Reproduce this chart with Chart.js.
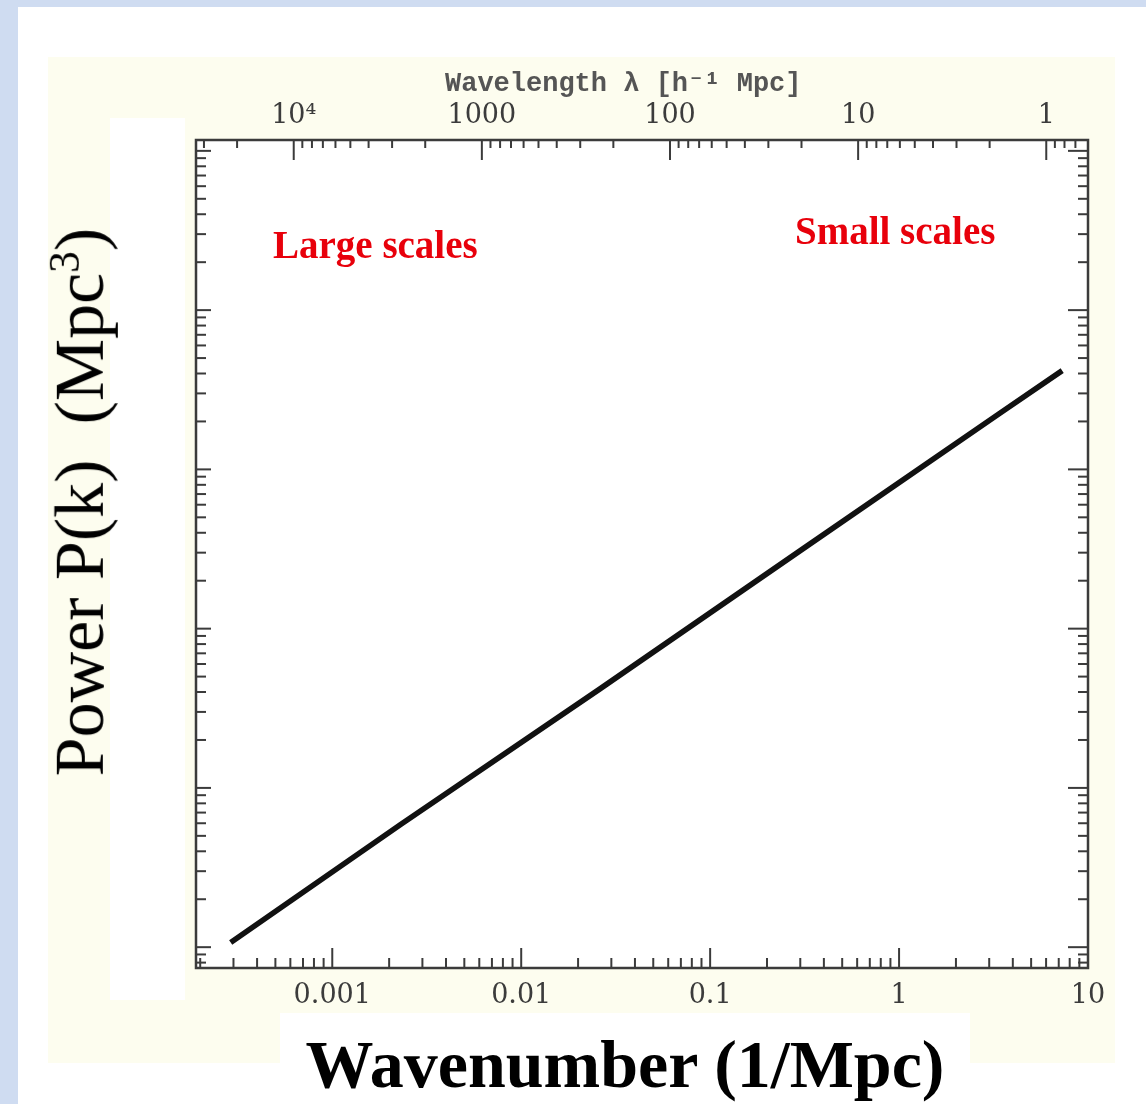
<!DOCTYPE html>
<html>
<head>
<meta charset="utf-8">
<title>Power spectrum P(k)</title>
<script src="https://cdn.jsdelivr.net/npm/chart.js@4/dist/chart.umd.min.js"></script>
<style>
  body { margin: 0; width: 1146px; height: 1104px; background: #cfdcf1; position: relative; overflow: hidden; }
  .box { position: absolute; }
  #panel { left: 18px; top: 7px; right: 0; bottom: 0; background: #fff; }
  #cream { left: 48px; top: 57px; width: 1067px; height: 1006px; background: #fdfdef; }
  #leftPatch { left: 110px; top: 118px; width: 75px; height: 882px; background: #fff; }
  #bottomPatch { left: 280px; top: 1013px; width: 690px; height: 91px; background: #fff; }
  #plotBg { left: 196px; top: 140px; width: 892px; height: 828px; background: #fff; }
  canvas { position: absolute; left: 0; top: 0; }
  .txt { position: absolute; white-space: nowrap; }
  #yTitle { left: -278px; top: 459px; width: 700px; text-align: center; transform: rotate(-90deg);
            font: 70px "Liberation Serif", "Times New Roman", serif; color: #000; line-height: 70px; }
  #xTitle { left: 280px; top: 1026px; width: 690px; text-align: center;
            font: bold 68px "Liberation Serif", "Times New Roman", serif; color: #000; line-height: 76px; }
  #topTitle { left: 445px; top: 66px; font: bold 27px "Liberation Mono", monospace; color: #555; }
  .red { font: bold 39px "Liberation Serif", "Times New Roman", serif; color: #e8000b; }
  #large { left: 273px; top: 222px; }
  #small { left: 795px; top: 208px; }
  sup { font-size: 0.62em; }
</style>
</head>
<body>
<div class="box" id="panel"></div>
<div class="box" id="cream"></div>
<div class="box" id="leftPatch"></div>
<div class="box" id="bottomPatch"></div>
<div class="box" id="plotBg"></div>
<canvas id="spectrum" width="1146" height="1104"></canvas>
<div class="txt" id="yTitle">Power P(k)&nbsp;&nbsp;(Mpc<sup>3</sup>)</div>
<div class="txt" id="xTitle">Wavenumber (1/Mpc)</div>
<div class="txt" id="topTitle">Wavelength λ [h⁻¹ Mpc]</div>
<div class="txt red" id="large">Large scales</div>
<div class="txt red" id="small">Small scales</div>

<script>
// ========== DATA ==========
const kValues = [0.00029, 0.0023, 0.026, 0.30, 3.4, 7.3];
const powerValues = [10.7, 59, 417, 3090, 22400, 41700];

const kTicks = [0.001, 0.01, 0.1, 1, 10];
const kTickLabels = ['0.001', '0.01', '0.1', '1', '10'];
const lambdaTicks = [10000, 1000, 100, 10, 1];
const lambdaTickLabels = ['10⁴', '1000', '100', '10', '1'];

const kRange = [0.00019, 10];
const lambdaRange = [0.628, 33070];
const powerRange = [7.4, 1.17e6];

// ========== HELPERS ==========
function logMarks(scale) {
  const out = [];
  const lo = Math.floor(Math.log10(scale.min));
  const hi = Math.ceil(Math.log10(scale.max));
  for (let e = lo; e <= hi; e++) {
    for (let m = 1; m <= 9; m++) {
      const v = m * Math.pow(10, e);
      if (v >= scale.min * 0.999 && v <= scale.max * 1.001) out.push({ v, major: m === 1 });
    }
  }
  return out;
}

function fixedTicks(values) {
  return scale => { scale.ticks = values.map(v => ({ value: v })); };
}

// inward tick marks + frame, like the old plot
const insideTicks = {
  id: 'insideTicks',
  afterDatasetsDraw(chart) {
    const { ctx, chartArea: a, scales } = chart;
    ctx.save();
    ctx.strokeStyle = '#3b3b3b';
    ctx.lineWidth = 2;
    const seg = (x1, y1, x2, y2) => { ctx.beginPath(); ctx.moveTo(x1, y1); ctx.lineTo(x2, y2); ctx.stroke(); };

    logMarks(scales.x).forEach(t => {
      const px = scales.x.getPixelForValue(t.v);
      seg(px, a.bottom, px, a.bottom - (t.major ? 20 : 10));
    });
    logMarks(scales.x2).forEach(t => {
      const px = scales.x2.getPixelForValue(t.v);
      seg(px, a.top, px, a.top + (t.major ? 20 : 8));
    });
    logMarks(scales.y).forEach(t => {
      const py = scales.y.getPixelForValue(t.v);
      seg(a.left, py, a.left + (t.major ? 15 : 10), py);
      seg(a.right, py, a.right - (t.major ? 20 : 10), py);
    });

    ctx.lineWidth = 2.5;
    ctx.strokeRect(a.left, a.top, a.right - a.left, a.bottom - a.top);
    ctx.restore();
  }
};

// ========== CHART ==========
const tickFont = { family: '"DejaVu Serif", serif', size: 27 };

new Chart(document.getElementById('spectrum'), {
  type: 'line',
  data: {
    datasets: [{
      data: kValues.map((k, i) => ({ x: k, y: powerValues[i] })),
      xAxisID: 'x',
      yAxisID: 'y',
      borderColor: '#111',
      borderWidth: 5.5,
      pointRadius: 0,
      tension: 0,
      fill: false
    }]
  },
  options: {
    responsive: false,
    animation: false,
    devicePixelRatio: 1,
    layout: { padding: { left: 0, right: 58, top: 0, bottom: 0 } },
    plugins: { legend: { display: false }, tooltip: { enabled: false } },
    scales: {
      x: {
        type: 'logarithmic',
        position: 'bottom',
        min: kRange[0],
        max: kRange[1],
        afterBuildTicks: fixedTicks(kTicks),
        afterFit: s => { s.height = 136; },
        grid: { display: false, drawTicks: false },
        border: { display: false },
        ticks: {
          padding: 12,
          autoSkip: false,
          maxRotation: 0,
          color: '#3c3c3c',
          font: tickFont,
          callback: (v, i) => kTickLabels[i]
        }
      },
      x2: {
        type: 'logarithmic',
        position: 'top',
        reverse: true,
        min: lambdaRange[0],
        max: lambdaRange[1],
        afterBuildTicks: fixedTicks(lambdaTicks),
        afterFit: s => { s.height = 140; },
        grid: { display: false, drawTicks: false },
        border: { display: false },
        ticks: {
          padding: 8,
          autoSkip: false,
          maxRotation: 0,
          color: '#3c3c3c',
          font: tickFont,
          callback: (v, i) => lambdaTickLabels[i]
        }
      },
      y: {
        type: 'logarithmic',
        position: 'left',
        min: powerRange[0],
        max: powerRange[1],
        afterFit: s => { s.width = 196; },
        grid: { display: false, drawTicks: false },
        border: { display: false },
        ticks: { display: false }
      }
    }
  },
  plugins: [insideTicks]
});
</script>
</body>
</html>
